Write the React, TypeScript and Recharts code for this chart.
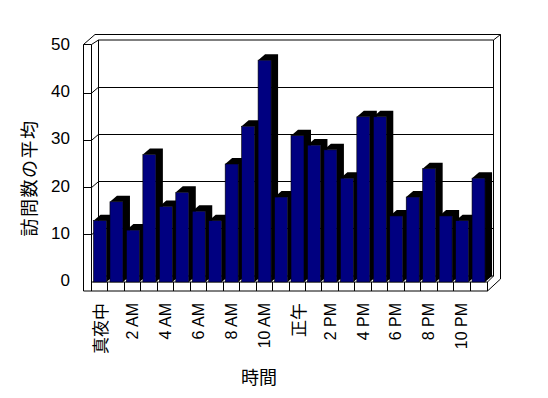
import { BarChart, Bar, XAxis, YAxis, CartesianGrid, Customized } from 'recharts';

const hours = [
    '真夜中', '1 AM', '2 AM', '3 AM', '4 AM', '5 AM', '6 AM', '7 AM', '8 AM', '9 AM', '10 AM', '11 AM',
    '正午', '1 PM', '2 PM', '3 PM', '4 PM', '5 PM', '6 PM', '7 PM', '8 PM', '9 PM', '10 PM', '11 PM',
];
const visits = [13, 17, 11, 27, 16, 19, 15, 13, 25, 33, 47, 18, 31, 29, 28, 22, 35, 35, 14, 18, 24, 14, 13, 22];
const yTicks = [0, 10, 20, 30, 40, 50];

const data = hours.map((hour, i) => ({ hour, visits: visits[i] }));

// plot box (front plane) and 3d depth offset
const W = 548;
const H = 398;
const LEFT = 91.5;
const RIGHT = 486.5;
const TOP = 46;
const BOTTOM = 282;
const DX = 7;
const DY = -6;
const SLOT = (RIGHT - LEFT) / hours.length;
const WALL_X = 83.5;
const FLOOR_Y = 291;
const OUT_TOP = 34.5;
const OUT_RIGHT = 500.5;

const LATIN = '"Liberation Sans", Arial, sans-serif';
const CJK = '"Noto Sans CJK JP", "Liberation Sans", sans-serif';

function Frame() {
    const ln = (x1: number, y1: number, x2: number, y2: number, k: string) => (
        <line key={k} x1={x1} y1={y1} x2={x2} y2={y2} stroke="#000" strokeWidth={1} />
    );
    const wallTop = TOP - 1.5;
    return (
        <g>
            {/* back wall */}
            {ln(LEFT + DX, TOP + DY, RIGHT + DX, TOP + DY, 'bt')}
            {ln(RIGHT + DX, TOP + DY, RIGHT + DX, BOTTOM + DY, 'br')}
            {ln(LEFT + DX, TOP + DY, LEFT + DX, BOTTOM + DY, 'bl')}
            {ln(LEFT + DX, BOTTOM + DY, RIGHT + DX, BOTTOM + DY, 'bb')}
            {ln(95, OUT_TOP, OUT_RIGHT, OUT_TOP, 'ot')}
            {ln(OUT_RIGHT, OUT_TOP, OUT_RIGHT, 279, 'or')}
            {ln(RIGHT + DX, TOP + DY, OUT_RIGHT, OUT_TOP, 'od')}
            {/* left wall */}
            {ln(WALL_X, wallTop, WALL_X, FLOOR_Y, 'lw1')}
            {ln(LEFT, wallTop, LEFT, BOTTOM, 'lw2')}
            {ln(WALL_X, wallTop, LEFT, wallTop, 'lw3')}
            {ln(WALL_X, wallTop, 95, OUT_TOP, 'lw4')}
            {ln(LEFT, wallTop, LEFT + DX, TOP + DY, 'lw5')}
            {/* floor */}
            {ln(LEFT, BOTTOM, RIGHT + 1, BOTTOM, 'f1')}
            {ln(WALL_X, FLOOR_Y, RIGHT + 1, FLOOR_Y, 'f2')}
            {ln(RIGHT + 1, BOTTOM, RIGHT + 1, FLOOR_Y, 'f3')}
            {ln(RIGHT + 1, FLOOR_Y, OUT_RIGHT, 279, 'f4')}
            {ln(RIGHT + 1, BOTTOM, RIGHT + DX, BOTTOM + DY, 'f5')}
            {/* titles */}
            <text
                x={28}
                y={178}
                transform="rotate(-90, 28, 178)"
                textAnchor="middle"
                dominantBaseline="central"
                fontFamily={CJK}
                fontSize={18}
                letterSpacing={1.5}
                fill="#000"
            >
                訪問数の平均
            </text>
            <text x={259} y={376} textAnchor="middle" dominantBaseline="central" fontFamily={CJK} fontSize={18} fill="#000">
                時間
            </text>
        </g>
    );
}

function GridLine(p: any) {
    const { x1, y1, x2 } = p;
    if (Math.abs(y1 - TOP) < 1 || Math.abs(y1 - BOTTOM) < 1) return <g key={p.key} />;
    return (
        <g key={p.key}>
            <line x1={x1 + DX} y1={y1 + DY} x2={x2 + DX} y2={y1 + DY} stroke="#000" shapeRendering="crispEdges" />
            <line x1={x1} y1={y1} x2={x1 + DX} y2={y1 + DY} stroke="#000" />
            <line x1={WALL_X} y1={y1} x2={x1} y2={y1} stroke="#000" shapeRendering="crispEdges" />
        </g>
    );
}

function XTick(p: any) {
    const { x, index, payload } = p;
    const label = String(payload.value);
    const cjk = /[^\x00-\x7f]/.test(label);
    return (
        <g>
            <line x1={x - SLOT / 2} y1={BOTTOM} x2={x - SLOT / 2} y2={FLOOR_Y} stroke="#000" shapeRendering="crispEdges" />
            {index % 2 === 0 && (
                <text
                    x={x}
                    y={303}
                    transform={`rotate(-90, ${x}, 303)`}
                    textAnchor="end"
                    dominantBaseline="central"
                    fontFamily={cjk ? CJK : LATIN}
                    fontSize={cjk ? 17 : 16}
                    fill="#000"
                >
                    {label}
                </text>
            )}
        </g>
    );
}

function YTick(p: any) {
    return (
        <text x={70} y={p.y - 1.5} textAnchor="end" dominantBaseline="central" fontFamily={LATIN} fontSize={17} fill="#000">
            {p.payload.value}
        </text>
    );
}

function Bar3D(p: any) {
    const { x, y, width, height } = p;
    if (!height) return <g />;
    const pts = [
        [x, y],
        [x + DX, y + DY],
        [x + width + DX, y + DY],
        [x + width + DX, y + height + DY],
        [x + width, y + height],
        [x + width, y],
    ]
        .map(q => q.join(','))
        .join(' ');
    return (
        <g>
            <polygon points={pts} fill="#000" />
            <rect x={x} y={y} width={width} height={height} fill="#000080" stroke="#000" strokeWidth={0.6} />
        </g>
    );
}

export default function App() {
    return (
        <div style={{ position: 'absolute', left: 0, top: 0, width: W, height: H, background: '#fff' }}>
            <BarChart
                width={W}
                height={H}
                data={data}
                margin={{ top: TOP, right: W - RIGHT, bottom: H - BOTTOM - 10, left: LEFT - 40 }}
                barSize={13}
            >
                <CartesianGrid vertical={false} horizontal={(p: any) => <GridLine {...p} />} />
                <Customized component={<Frame />} />
                <XAxis dataKey="hour" interval={0} axisLine={false} tickLine={false} height={10} tick={<XTick />} />
                <YAxis
                    domain={[0, 50]}
                    ticks={yTicks}
                    width={40}
                    axisLine={false}
                    tickLine={false}
                    tick={<YTick />}
                    interval={0}
                />
                <Bar dataKey="visits" shape={<Bar3D />} isAnimationActive={false} />
            </BarChart>
        </div>
    );
}
